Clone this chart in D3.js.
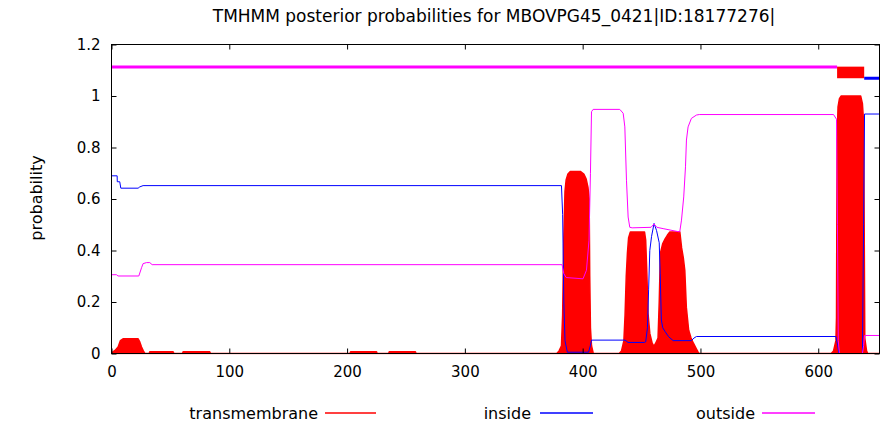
<!DOCTYPE html>
<html>
<head>
<meta charset="utf-8">
<script src="https://cdn.jsdelivr.net/npm/d3@7"></script>
<style>
  html, body { margin: 0; padding: 0; background: #fff; }
  svg { display: block; }
  text { font-family: "DejaVu Sans", "Liberation Sans", Arial, sans-serif; fill: #000; }
</style>
</head>
<body>
<svg id="chart" width="882" height="427"></svg>
<script>
// Protein and plot labels
const titleText = "TMHMM posterior probabilities for MBOVPG45_0421|ID:18177276|";
const yLabel = "probability";
const seqLength = 652;

const xTicks = [0, 100, 200, 300, 400, 500, 600];
const yTicks = [0, 0.2, 0.4, 0.6, 0.8, 1.0, 1.2];

const legendNames = ["transmembrane", "inside", "outside"];
const colors = { transmembrane: "#ff0000", inside: "#0000ff", outside: "#ff00ff" };

// Predicted topology (residue ranges) shown above the curves
const topology = [
  { type: "outside",       start: 0,   end: 616 },
  { type: "transmembrane", start: 616, end: 639 },
  { type: "inside",        start: 639, end: seqLength }
];
const topologyLevel = { outside: 1.113, inside: 1.069, tmLow: 1.069, tmHigh: 1.114 };

// Posterior probability of transmembrane state: [residue, probability]
const tmProb = [
  [0, 0], [1, 0.005], [3, 0.012], [5.6, 0.025], [7.6, 0.05], [9.8, 0.057], [22.6, 0.057],
  [24, 0.045], [25.5, 0.025], [27, 0.01], [28.3, 0],
  [32, 0], [32.5, 0.007], [52.3, 0.007], [53, 0],
  [60.3, 0], [60.8, 0.007], [83.4, 0.007], [84, 0],
  [202.5, 0], [203, 0.007], [225, 0.007], [225.5, 0],
  [235.3, 0], [235.8, 0.007], [258, 0.007], [258.5, 0],
  [378, 0], [380, 0.01], [382, 0.03], [383, 0.15], [384, 0.45], [385, 0.63], [386, 0.675],
  [387.5, 0.697], [389.5, 0.707], [398, 0.707], [401, 0.697], [403, 0.677], [404.5, 0.645],
  [405.5, 0.6], [406, 0.3], [406.6, 0.1], [407.5, 0.03], [409, 0],
  [431, 0], [433, 0.01], [435, 0.05], [436, 0.15], [437, 0.3], [438, 0.39], [439, 0.45],
  [440.5, 0.472], [452.5, 0.472], [453.5, 0.44], [454.5, 0.31], [455.5, 0.155], [457, 0.078],
  [459, 0.04], [460.5, 0.028], [462, 0.04], [464, 0.06], [465, 0.2], [466, 0.39], [468, 0.427],
  [470, 0.445], [472, 0.46], [474, 0.472], [482.5, 0.472], [484, 0.41], [485.5, 0.37],
  [486.7, 0.323], [488, 0.18], [490, 0.09], [492, 0.06], [494, 0.04], [496.5, 0.018],
  [498, 0.005], [499, 0],
  [611, 0], [613, 0.01], [615, 0.05], [615.5, 0.14], [616, 0.83], [616.8, 0.958], [618, 0.99],
  [619.5, 1.0], [636, 1.0], [637.5, 0.97], [638.5, 0.9], [639, 0.5], [639.5, 0.06], [641, 0.01],
  [642, 0], [652, 0]
];

// Posterior probability of inside (cytoplasmic) state
const insideProb = [
  [0, 0.69], [4.8, 0.69], [4.9, 0.667], [7.0, 0.667], [7.9, 0.642], [22.6, 0.642], [24, 0.647],
  [26.8, 0.652], [382, 0.652], [383, 0.54], [384, 0.2], [385, 0.05], [387, 0.005], [405, 0.005],
  [406.5, 0.03], [407.5, 0.052], [436, 0.052], [438.5, 0.043], [452.5, 0.043], [453.5, 0.045],
  [455, 0.1], [456, 0.25], [457, 0.4], [458.5, 0.455], [460.6, 0.505], [462.7, 0.478],
  [465, 0.43], [465.8, 0.31], [466.8, 0.13], [468, 0.1], [470, 0.085], [473, 0.065],
  [476.8, 0.05], [492.3, 0.05], [494.5, 0.06], [496.6, 0.066], [615, 0.066], [616.5, 0.03],
  [617.5, 0.0], [637.5, 0.0], [638.5, 0.5], [639.3, 0.93], [652, 0.93]
];

// Posterior probability of outside (extracellular) state
const outsideProb = [
  [0, 0.306], [4.2, 0.306], [5.5, 0.301], [23.2, 0.301], [25.5, 0.333], [26.8, 0.349],
  [29.7, 0.353], [32.5, 0.353], [34.5, 0.345], [382.5, 0.345], [384, 0.31], [386, 0.295],
  [400.3, 0.29], [403.2, 0.323], [405.4, 0.44], [406.6, 0.70], [407.5, 0.939], [408.9, 0.948],
  [431.5, 0.948], [434.4, 0.933], [435.8, 0.88], [437.2, 0.673], [438.6, 0.53], [440, 0.49],
  [442, 0.488], [458, 0.49], [460.6, 0.503], [463, 0.49], [468.3, 0.485], [482.4, 0.472],
  [483.9, 0.518], [485.8, 0.608], [487.3, 0.725], [488.1, 0.829], [489.5, 0.88], [492.3, 0.913],
  [496.6, 0.926], [499, 0.928], [613, 0.928], [615.5, 0.91], [616.3, 0.5], [617, 0.05],
  [618, 0.0], [637.5, 0.0], [638.5, 0.03], [639.3, 0.07], [652, 0.07]
];

// Layout
const plot = { left: 111.5, right: 879.5, top: 44.5, bottom: 353.5 };
const svg = d3.select("#chart");

const x = d3.scaleLinear().domain([0, seqLength]).range([plot.left, plot.right]);
const y = d3.scaleLinear().domain([0, 1.2]).range([plot.bottom, plot.top]);

svg.append("defs").append("clipPath").attr("id", "plot-clip")
  .append("rect")
  .attr("x", plot.left).attr("y", plot.top)
  .attr("width", plot.right - plot.left).attr("height", plot.bottom - plot.top + 1);

const g = svg.append("g").attr("clip-path", "url(#plot-clip)");

// Transmembrane probability as filled area
const area = d3.area()
  .x(d => x(d[0]))
  .y0(y(0))
  .y1(d => y(d[1]));

g.append("path")
  .datum(tmProb)
  .attr("d", area)
  .attr("fill", colors.transmembrane)
  .attr("stroke", colors.transmembrane)
  .attr("stroke-width", 1.5)
  .attr("stroke-linejoin", "round");

const line = d3.line().x(d => x(d[0])).y(d => y(d[1]));

g.append("path")
  .datum(insideProb)
  .attr("d", line)
  .attr("fill", "none")
  .attr("stroke", colors.inside)
  .attr("stroke-width", 1);

g.append("path")
  .datum(outsideProb)
  .attr("d", line)
  .attr("fill", "none")
  .attr("stroke", colors.outside)
  .attr("stroke-width", 1);

// Topology bar
topology.forEach(seg => {
  if (seg.type === "transmembrane") {
    g.append("rect")
      .attr("x", x(seg.start))
      .attr("y", y(topologyLevel.tmHigh))
      .attr("width", x(seg.end) - x(seg.start))
      .attr("height", y(topologyLevel.tmLow) - y(topologyLevel.tmHigh))
      .attr("fill", colors.transmembrane);
  } else {
    const lvl = topologyLevel[seg.type];
    g.append("line")
      .attr("x1", x(seg.start)).attr("x2", x(seg.end))
      .attr("y1", y(lvl)).attr("y2", y(lvl))
      .attr("stroke", colors[seg.type])
      .attr("stroke-width", 3);
  }
});

// Axes with inward ticks on all four sides
const fmt = d3.format("~g");
const tickLen = 5;

const xAxisB = svg.append("g").attr("transform", `translate(0,${plot.bottom})`)
  .call(d3.axisBottom(x).tickValues(xTicks).tickSizeInner(-tickLen).tickSizeOuter(0).tickPadding(13).tickFormat(fmt));
const xAxisT = svg.append("g").attr("transform", `translate(0,${plot.top})`)
  .call(d3.axisTop(x).tickValues(xTicks).tickSizeInner(-tickLen).tickSizeOuter(0).tickFormat(""));
const yAxisL = svg.append("g").attr("transform", `translate(${plot.left},0)`)
  .call(d3.axisLeft(y).tickValues(yTicks).tickSizeInner(-tickLen).tickSizeOuter(0).tickPadding(11).tickFormat(fmt));
const yAxisR = svg.append("g").attr("transform", `translate(${plot.right},0)`)
  .call(d3.axisRight(y).tickValues(yTicks).tickSizeInner(-tickLen).tickSizeOuter(0).tickFormat(""));

[xAxisB, xAxisT, yAxisL, yAxisR].forEach(a => {
  a.select(".domain").remove();
  a.selectAll(".tick line").attr("stroke", "#000");
  a.selectAll("text").attr("font-size", 15).attr("font-family", "DejaVu Sans, sans-serif").attr("fill", "#000");
});

// Frame
svg.append("rect")
  .attr("x", plot.left).attr("y", plot.top)
  .attr("width", plot.right - plot.left).attr("height", plot.bottom - plot.top)
  .attr("fill", "none").attr("stroke", "#000").attr("stroke-width", 1);

// Title
svg.append("text")
  .attr("x", 494).attr("y", 22)
  .attr("text-anchor", "middle")
  .attr("font-size", 17)
  .text(titleText);

// Y label
svg.append("text")
  .attr("transform", `translate(42,198) rotate(-90)`)
  .attr("text-anchor", "middle")
  .attr("font-size", 16)
  .text(yLabel);

// Legend
const legendPos = [
  { textEnd: 318, lineStart: 325, lineEnd: 376 },
  { textEnd: 531, lineStart: 540, lineEnd: 593 },
  { textEnd: 755, lineStart: 762, lineEnd: 815 }
];
legendNames.forEach((name, i) => {
  const p = legendPos[i];
  svg.append("text")
    .attr("x", p.textEnd).attr("y", 419)
    .attr("text-anchor", "end")
    .attr("font-size", 16)
    .text(name);
  svg.append("line")
    .attr("x1", p.lineStart).attr("x2", p.lineEnd)
    .attr("y1", 413).attr("y2", 413)
    .attr("stroke", colors[name])
    .attr("stroke-width", 1.5);
});
</script>
</body>
</html>
